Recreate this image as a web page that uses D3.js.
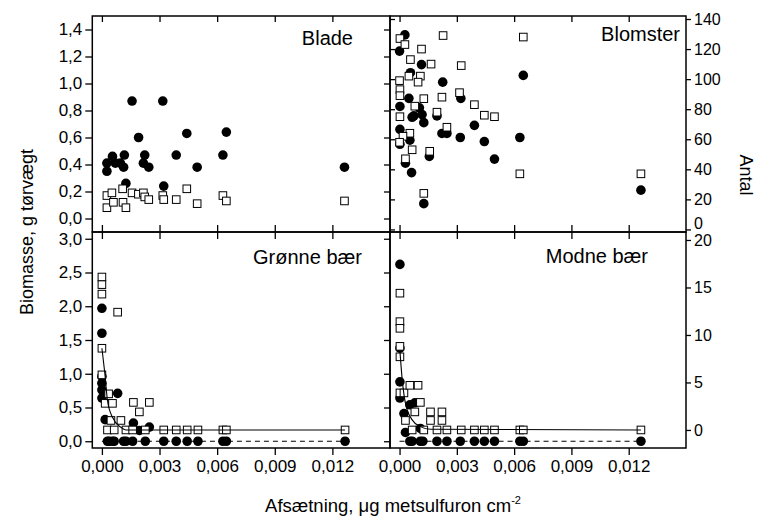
<!DOCTYPE html>
<html>
<head>
<meta charset="utf-8">
<script src="https://cdn.jsdelivr.net/npm/d3@7"></script>
<style>
  body { margin: 0; background: #fff; }
  svg text { font-family: "Liberation Sans", Arial, sans-serif; fill: #000; }
</style>
</head>
<body>
<div id="chart"></div>
<script>
// tick values and labels
var xTicks = [0, 0.003, 0.006, 0.009, 0.012];
var biomassTicksTop = [0, 0.2, 0.4, 0.6, 0.8, 1.0, 1.2, 1.4];
var biomassTicksBottom = [0, 0.5, 1.0, 1.5, 2.0, 2.5, 3.0];
var antalTicksTop = [0, 20, 40, 60, 80, 100, 120, 140];
var antalTicksBottom = [0, 5, 10, 15, 20];
var panelTitles = ["Blade", "Blomster", "Grønne bær", "Modne bær"];

// [afsætning, værdi]
var bladeBiomass = [[0.00026,0.41],[0.00026,0.35],[0.00055,0.46],[0.0007,0.41],[0.00096,0.41],[0.00113,0.38],
  [0.00117,0.47],[0.00125,0.26],[0.00157,0.87],[0.00191,0.60],[0.00223,0.47],[0.00216,0.41],[0.00244,0.38],
  [0.00317,0.87],[0.00322,0.24],[0.00387,0.47],[0.00442,0.63],[0.00496,0.38],[0.0063,0.47],[0.00648,0.64],[0.01263,0.38]];
var bladeSquares = [[0.00026,0.17],[0.00026,0.08],[0.00052,0.19],[0.0006,0.12],[0.00108,0.22],[0.0011,0.12],
  [0.00125,0.08],[0.00157,0.19],[0.0019,0.18],[0.00216,0.19],[0.00223,0.16],[0.00244,0.14],[0.00317,0.17],
  [0.00322,0.14],[0.00387,0.14],[0.00442,0.22],[0.00496,0.11],[0.0063,0.17],[0.00648,0.13],[0.01263,0.13]];

var blomsterBiomass = [[0.00028,1.36],[0.0,1.24],[0.00115,1.14],[0.00057,1.08],[0.00226,1.01],[0.00049,0.89],
  [0.00002,0.83],[0.00104,0.82],[0.00321,0.89],[0.00075,0.76],[0.00118,0.77],[0.00066,0.75],[0.00196,0.76],
  [0.00127,0.71],[0.00002,0.66],[0.00054,0.58],[0.00002,0.55],[0.00222,0.63],[0.00248,0.63],[0.00318,0.60],
  [0.00392,0.69],[0.00444,0.57],[0.00031,0.41],[0.00063,0.34],[0.00156,0.46],[0.00497,0.44],[0.0063,0.60],
  [0.00648,1.06],[0.01264,0.21],[0.00127,0.11]];
var blomsterAntal = [[0.00002,127],[0.00028,123],[0.00228,129],[0.00648,128],[0.00115,120],[0.00057,113],
  [0.00165,110],[0.00323,109],[0.00049,102],[0.00109,102],[0.00097,98],[0.0,99],[0.00002,93],[0.00002,89],
  [0.00127,87],[0.00222,88],[0.00314,91],[0.00392,83],[0.0008,82],[0.00196,78],[0.00444,76],[0.00002,75],
  [0.00248,68],[0.00054,64],[0.00018,62],[0.0,58],[0.00158,52],[0.00031,47],[0.00066,53],[0.00497,75],
  [0.0063,37],[0.01264,37],[0.00127,24]];

var gronneBiomass = [[0.0,1.97],[0.0,1.6],[0.0,0.96],[0.0,0.86],[0.0,0.76],[0.0,0.64],[0.00017,0.32],
  [0.00082,0.71],[0.00164,0.27],[0.00195,0.16],[0.00247,0.21],[0.00029,0],[0.00038,0],[0.00055,0],[0.00064,0],
  [0.00113,0],[0.00125,0],[0.0016,0],[0.00226,0],[0.00322,0],[0.00387,0],[0.00444,0],[0.005,0],[0.0063,0],
  [0.00648,0],[0.01266,0]];
var gronneAntal = [[0.0,16.1],[0.0,15.3],[0.0,14.3],[0.0,8.6],[0.0,5.8],[0.00035,3.8],[0.00017,2.8],
  [0.00055,2.8],[0.00082,12.4],[0.00047,1.0],[0.00099,1.0],[0.00029,0],[0.00064,0],[0.00125,0],[0.0016,0],
  [0.00164,2.9],[0.00195,1.9],[0.00226,0],[0.00247,2.9],[0.00322,0],[0.00387,0],[0.00444,0],[0.005,0],
  [0.0063,0],[0.00648,0],[0.01266,0]];
var gronneFit = [[0.0,8.6],[0.00017,5.6],[0.00029,3.1],[0.00055,1.33],[0.00099,0.27],[0.00125,0],[0.01266,0]];

var modneBiomass = [[0.00002,2.62],[0.00002,1.38],[0.00002,0.88],[0.00002,0.64],[0.00023,0.41],[0.00054,0.54],
  [0.0008,0.57],[0.00031,0.13],[0.00109,0.19],[0.00054,0],[0.00066,0],[0.00109,0],[0.00122,0],[0.00196,0],
  [0.00248,0],[0.00318,0],[0.00392,0],[0.00444,0],[0.00497,0],[0.0063,0],[0.00648,0],[0.01264,0]];
var modneAntal = [[0.00002,14.4],[0.00002,11.4],[0.00002,10.7],[0.00002,8.8],[0.00002,7.7],[0.00002,3.9],
  [0.00023,3.9],[0.00054,4.7],[0.00097,4.7],[0.00031,1.0],[0.0008,1.9],[0.00109,2.9],[0.00162,1.9],
  [0.00162,1.0],[0.00222,1.9],[0.00222,1.0],[0.00066,0],[0.00127,0],[0.00196,0],[0.00248,0],[0.00323,0],
  [0.00392,0],[0.00444,0],[0.00497,0],[0.0063,0],[0.00648,0],[0.01264,0]];
var modneFit = [[0.00002,8.3],[0.00014,5.3],[0.00031,2.8],[0.00066,1.06],[0.00109,0.35],[0.00162,0.07],[0.01264,0]];

var zeroLine = [[0.0, 0], [0.01266, 0]];

// panel layout
var colX = [[92.3, 390], [390, 686]];
var rowY = [[16, 232], [232, 448]];

var locale = d3.formatLocale({decimal: ",", thousands: ".", grouping: [3], currency: ["", ""]});
var fmtX = locale.format(".3f"), fmtY = locale.format(".1f");

var svg = d3.select('#chart')
  .append('svg')
    .attr('width', 761)
    .attr('height', 520);

var xScales = colX.map(function(r) { return d3.scaleLinear().domain([-0.0005, 0.015]).range(r); });
var yLeft = [
  d3.scaleLinear().domain([-0.1, 1.5]).range([232, 16]),
  d3.scaleLinear().domain([-0.1, 3.1]).range([448, 232])
];
var yRight = [
  d3.scaleLinear().domain([-1.7, 142]).range([232, 16]),
  d3.scaleLinear().domain([-1.9, 20.84]).range([448, 232])
];

var panels = [
  {title: panelTitles[0], col: 0, row: 0, circles: bladeBiomass, squares: bladeSquares, sqRight: false, tx: 353, ty: 45},
  {title: panelTitles[1], col: 1, row: 0, circles: blomsterBiomass, squares: blomsterAntal, sqRight: true, tx: 680, ty: 41},
  {title: panelTitles[2], col: 0, row: 1, circles: gronneBiomass, squares: gronneAntal, fit: gronneFit, sqRight: true, tx: 362, ty: 264},
  {title: panelTitles[3], col: 1, row: 1, circles: modneBiomass, squares: modneAntal, fit: modneFit, sqRight: true, tx: 648, ty: 263}
];

// helper to style an axis group
function styleAxis(g, fontSize) {
  g.select('.domain').remove();
  g.selectAll('line').attr('stroke', '#000').attr('stroke-width', 1.3);
  g.selectAll('text').attr('font-family', '"Liberation Sans", Arial, sans-serif').attr('font-size', fontSize || 17).attr('fill', '#000');
}

// axes
[0, 1].forEach(function(r) {
  var bt = r === 0 ? biomassTicksTop : biomassTicksBottom;
  var at = r === 0 ? antalTicksTop : antalTicksBottom;

  svg.append('g').attr('transform', 'translate(92.3,0)')
    .call(d3.axisLeft(yLeft[r]).tickValues(bt).tickSize(7).tickPadding(3).tickFormat(fmtY))
    .call(styleAxis);

  svg.append('g').attr('transform', 'translate(390,0)')
    .call(d3.axisLeft(yLeft[r]).tickValues(bt).tickSize(6).tickFormat(''))
    .call(styleAxis);

  if (r === 0) {
    svg.append('g').attr('transform', 'translate(390,0)')
      .call(d3.axisRight(yRight[r]).tickValues(at).tickSize(5).tickFormat(''))
      .call(styleAxis);
  }

  var ra = svg.append('g').attr('transform', 'translate(686,0)')
    .call(d3.axisRight(yRight[r]).tickValues(at).tickSize(5).tickPadding(3).tickFormat(d3.format('d')))
    .call(styleAxis);
  ra.selectAll('text').attr('font-size', 16);
  // the top 0 label sits just above the 20 label below it
  if (r === 0) ra.selectAll('text').filter(function(d) { return d === 0; }).attr('dy', '-0.08em');
});

[0, 1].forEach(function(c) {
  var x = xScales[c];
  svg.append('g').attr('transform', 'translate(0,448)')
    .call(d3.axisBottom(x).tickValues(xTicks).tickSize(7).tickPadding(5).tickFormat(fmtX))
    .call(styleAxis);
  svg.append('g').attr('transform', 'translate(0,16)')
    .call(d3.axisBottom(x).tickValues(xTicks).tickSize(6).tickFormat(''))
    .call(styleAxis);
  svg.append('g').attr('transform', 'translate(0,232)')
    .call(d3.axisBottom(x).tickValues(xTicks).tickSize(7).tickFormat(''))
    .call(styleAxis);
  svg.append('g').attr('transform', 'translate(0,232)')
    .call(d3.axisTop(x).tickValues(xTicks).tickSize(7).tickFormat(''))
    .call(styleAxis);
});

// panels
panels.forEach(function(p) {
  var x = xScales[p.col];
  var yl = yLeft[p.row];
  var ys = p.sqRight ? yRight[p.row] : yLeft[p.row];
  var g = svg.append('g');

  g.selectAll('circle')
    .data(p.circles)
    .enter()
    .append('circle')
    .attr('cx', function(d) { return x(d[0]); })
    .attr('cy', function(d) { return yl(d[1]); })
    .attr('r', 4.8)
    .attr('fill', '#000');

  g.selectAll('rect.sq')
    .data(p.squares)
    .enter()
    .append('rect')
    .attr('class', 'sq')
    .attr('x', function(d) { return x(d[0]) - 3.8; })
    .attr('y', function(d) { return ys(d[1]) - 3.8; })
    .attr('width', 7.6)
    .attr('height', 7.6)
    .attr('fill', '#fff')
    .attr('stroke', '#000')
    .attr('stroke-width', 1);

  if (p.fit) {
    g.append('path')
      .datum(zeroLine)
      .attr('d', d3.line().x(function(d) { return x(d[0]); }).y(function(d) { return yl(d[1]); }))
      .attr('fill', 'none')
      .attr('stroke', '#000')
      .attr('stroke-width', 1.1)
      .attr('stroke-dasharray', '5,4');

    g.append('path')
      .datum(p.fit)
      .attr('d', d3.line().curve(d3.curveMonotoneX).x(function(d) { return x(d[0]); }).y(function(d) { return ys(d[1]); }))
      .attr('fill', 'none')
      .attr('stroke', '#000')
      .attr('stroke-width', 1.1);
  }

  g.append('text')
    .attr('x', p.tx)
    .attr('y', p.ty)
    .attr('text-anchor', 'end')
    .attr('font-size', 20)
    .text(p.title);

  g.append('rect')
    .attr('x', colX[p.col][0])
    .attr('y', rowY[p.row][0])
    .attr('width', colX[p.col][1] - colX[p.col][0])
    .attr('height', rowY[p.row][1] - rowY[p.row][0])
    .attr('fill', 'none')
    .attr('stroke', '#000')
    .attr('stroke-width', 1.5);
});

// axis titles
svg.append('text')
  .attr('transform', 'translate(33,232) rotate(-90)')
  .attr('text-anchor', 'middle')
  .attr('font-size', 18)
  .text('Biomasse, g tørvægt');

svg.append('text')
  .attr('transform', 'translate(740,175) rotate(90)')
  .attr('text-anchor', 'middle')
  .attr('font-size', 18)
  .text('Antal');

var xt = svg.append('text')
  .attr('x', 393)
  .attr('y', 512)
  .attr('text-anchor', 'middle')
  .attr('font-size', 18.5);
xt.append('tspan').text('Afsætning, μg metsulfuron cm');
xt.append('tspan').attr('dy', -8).attr('font-size', 11).text('-2');
</script>
</body>
</html>
